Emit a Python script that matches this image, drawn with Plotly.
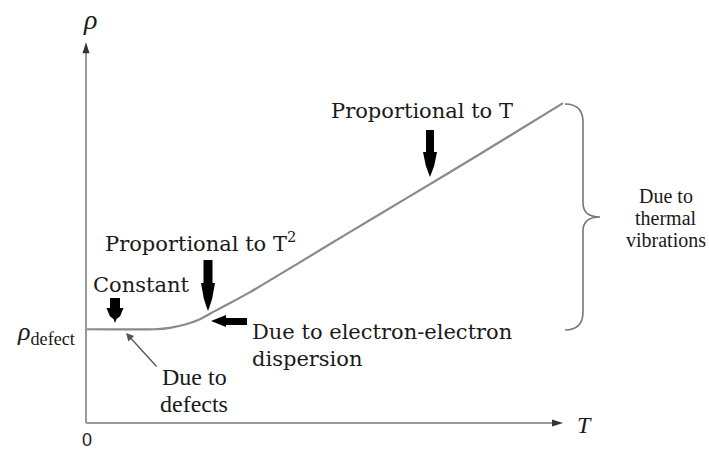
import plotly.graph_objects as go

# ---- data ----
T_values = [0, 1.45, 1.76, 2.08, 2.39, 2.70, 3.02, 3.44, 4.49, 5.53, 6.73, 8.26, 10.0]
rho_values = [1.97, 1.97, 2.00, 2.07, 2.18, 2.35, 2.52, 2.75, 3.38, 4.01, 4.73, 5.65, 6.72]
T_axis_max = 10.0
rho_axis_max = 8.0
origin_label = "0"
x_label = "T"
y_label = "ρ"
rho_defect_label = "<i>ρ</i><sub>defect</sub>"

# ---- layout helpers (pixel -> data / paper) ----
W, H = 709, 452
X0, Y0 = 86, 423
SX, SY = 47.7, 47.6


def dx(px):
    return (px - X0) / SX


def dy(py):
    return (Y0 - py) / SY


def path(cmds):
    out = []
    for c in cmds:
        if c == "Z":
            out.append("Z")
        else:
            letter, pts = c[0], c[1:]
            coords = " ".join(f"{dx(p[0]):.4f},{dy(p[1]):.4f}" for p in pts)
            out.append(f"{letter} {coords}")
    return " ".join(out)


def down_arrow(cx, top, hs, tip, sw, hw):
    return path([
        ("M", (cx - sw / 2, top)), ("L", (cx + sw / 2, top)), ("L", (cx + sw / 2, hs)),
        ("L", (cx + hw / 2, hs)), ("L", (cx + hw * 0.3, hs + (tip - hs) * 0.55)),
        ("L", (cx + 1.5, tip - 4)), ("L", (cx, tip)), ("L", (cx - 1.5, tip - 4)),
        ("L", (cx - hw * 0.3, hs + (tip - hs) * 0.55)), ("L", (cx - hw / 2, hs)),
        ("L", (cx - sw / 2, hs)), "Z"])


fig = go.Figure()
fig.add_trace(go.Scatter(x=T_values, y=rho_values, mode="lines",
                         line=dict(color="#8a8a8a", width=2.2, shape="spline", smoothing=0.6),
                         hoverinfo="skip", showlegend=False))

shapes = []
axis_col = "#999999"
# x axis line + head
shapes.append(dict(type="line", xref="x", yref="y", x0=0, y0=0, x1=T_axis_max - 0.15, y1=0,
                   line=dict(color=axis_col, width=2)))
xt = X0 + T_axis_max * SX
shapes.append(dict(type="path", xref="x", yref="y",
                   path=path([("M", (xt, Y0)), ("L", (xt - 11, Y0 - 3.5)), ("L", (xt - 11, Y0 + 3.5)), "Z"]),
                   fillcolor="#333333", line=dict(width=0)))
# y axis line + head
shapes.append(dict(type="line", xref="x", yref="y", x0=0, y0=0, x1=0, y1=rho_axis_max - 0.15,
                   line=dict(color=axis_col, width=2)))
yt = Y0 - rho_axis_max * SY
shapes.append(dict(type="path", xref="x", yref="y",
                   path=path([("M", (X0, yt)), ("L", (X0 - 3.5, yt + 11)), ("L", (X0 + 3.5, yt + 11)), "Z"]),
                   fillcolor="#333333", line=dict(width=0)))

# thick black arrows
for cx, top, hs, tip, sw, hw in [(430, 130, 152, 177, 8, 14),
                                  (208, 260, 283, 311, 9, 14),
                                  (115, 298, 308, 323, 10, 17)]:
    shapes.append(dict(type="path", xref="x", yref="y", path=down_arrow(cx, top, hs, tip, sw, hw),
                       fillcolor="black", line=dict(width=0)))
# left arrow
shapes.append(dict(type="path", xref="x", yref="y",
                   path=path([("M", (211, 321)), ("L", (226, 315)), ("L", (226, 318)), ("L", (247, 318)),
                              ("L", (247, 325)), ("L", (226, 325)), ("L", (226, 327)), "Z"]),
                   fillcolor="black", line=dict(width=0)))
# brace
shapes.append(dict(type="path", xref="x", yref="y",
                   path=path([("M", (565, 104)), ("Q", (583, 104), (583, 122)), ("L", (583, 203)),
                              ("Q", (583, 217), (600, 217)), ("Q", (583, 217), (583, 231)),
                              ("L", (583, 312)), ("Q", (583, 330), (565, 330))]),
                   line=dict(color="#777777", width=1.6)))

serif = "DejaVu Serif"
times = "Liberation Serif"
txt = "#1a1a1a"


def ann(text, px, py, size, family=serif, xanchor="center", yanchor="middle"):
    return dict(text=text, x=px / W, y=1 - py / H, xref="paper", yref="paper", showarrow=False,
                xanchor=xanchor, yanchor=yanchor, font=dict(family=family, size=size, color=txt))


annotations = [
    ann("Proportional to T", 422, 111, 21),
    ann("Proportional to T<sup>2</sup>", 103, 242, 21, xanchor="left"),
    ann("Constant", 91, 285, 21, xanchor="left"),
    ann("Due to electron-electron", 250, 332, 21, xanchor="left"),
    ann("dispersion", 250, 359, 21, xanchor="left"),
    ann("Due to", 194, 377, 24, family=times),
    ann("defects", 194, 404, 24, family=times),
    ann("Due to", 666, 196, 20, family=times),
    ann("thermal", 666, 218, 20, family=times),
    ann("vibrations", 666, 240, 20, family=times),
    ann(f"<i>{y_label}</i>", 90, 20, 28, family=times),
    ann(f"<i>{x_label}</i>", 584, 425, 24, family=times),
    ann(rho_defect_label, 46, 333, 26, family=times),
    ann(origin_label, 87, 452, 18, family="Liberation Sans", yanchor="bottom"),
]
# thin pointer for "Due to defects"
annotations.append(dict(x=dx(126), y=dy(333), ax=dx(158), ay=dy(368), xref="x", yref="y",
                        axref="x", ayref="y", showarrow=True, arrowhead=2, arrowsize=1.2,
                        arrowwidth=1.3, arrowcolor="#555555", text=""))

fig.update_layout(
    width=W, height=H, margin=dict(l=0, r=0, t=0, b=0),
    paper_bgcolor="white", plot_bgcolor="white",
    xaxis=dict(range=[dx(0), dx(W)], visible=False, fixedrange=True),
    yaxis=dict(range=[dy(H), dy(0)], visible=False, fixedrange=True),
    shapes=shapes, annotations=annotations, showlegend=False,
)
fig.write_html("out.html", config={"displayModeBar": False},
               post_script="document.body.style.margin='0';document.body.style.overflow='hidden';")
